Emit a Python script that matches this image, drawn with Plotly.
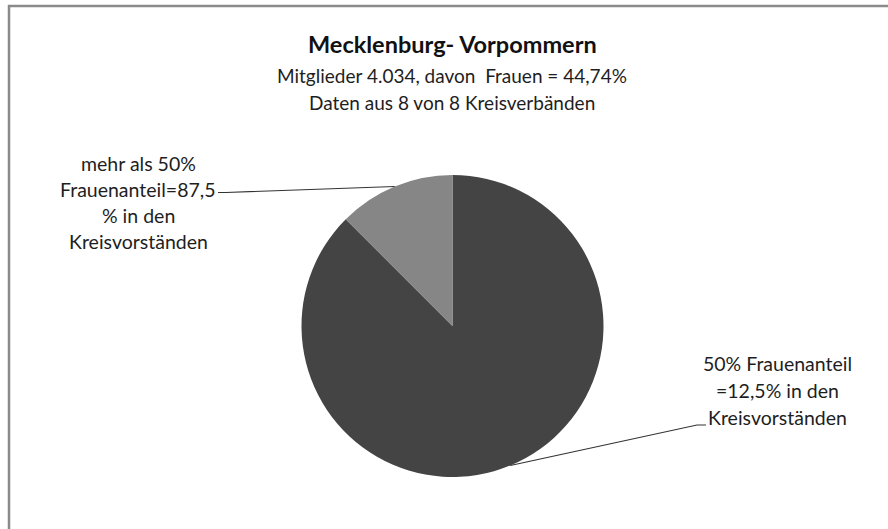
import math
import plotly.graph_objects as go

# ---- data ----
slice_names = ["50% Frauenanteil", "mehr als 50% Frauenanteil"]
slice_values = [87.5, 12.5]
slice_colors = ["#444444", "#868686"]
label_lines_dark = ["50% Frauenanteil", "=12,5% in den", "Kreisvorständen"]
label_lines_light = ["mehr als 50%", "Frauenanteil=87,5", "% in den", "Kreisvorständen"]
title_text = "Mecklenburg- Vorpommern"
subtitle_lines = ["Mitglieder 4.034, davon  Frauen = 44,74%", "Daten aus 8 von 8 Kreisverbänden"]

W, H = 888, 529
FONT = "Lato, Carlito, Calibri, sans-serif"
TXT = "#1e1e1e"

# pie geometry (pixels)
cx, cy, r = 452.5, 326, 151


def px(x):
    return x / W


def py(y):
    return 1 - y / H


fig = go.Figure(go.Pie(
    labels=slice_names,
    values=slice_values,
    sort=False,
    direction="clockwise",
    rotation=0,
    marker=dict(colors=slice_colors, line=dict(width=0)),
    textinfo="none",
    hoverinfo="label+percent",
    showlegend=False,
    domain=dict(x=[px(cx - r), px(cx + r)], y=[py(cy + r), py(cy - r)]),
))

# mid-angle edge points of each slice (clockwise from 12 o'clock), derived from the data
total = sum(slice_values)
cum = 0
edge_pts = []
for v in slice_values:
    mid = (cum + v / 2) / total * 2 * math.pi
    edge_pts.append((cx + r * math.sin(mid), cy - r * math.cos(mid)))
    cum += v

shapes = [
    # frame (top and left edges)
    dict(type="line", xref="paper", yref="paper", x0=px(8), x1=px(W), y0=py(6), y1=py(6),
         line=dict(color="#8a8a8a", width=2.5)),
    dict(type="line", xref="paper", yref="paper", x0=px(9), x1=px(9), y0=py(5), y1=py(H),
         line=dict(color="#8a8a8a", width=2.5)),
]

# leader lines
(ed_x, ed_y), (el_x, el_y) = edge_pts
shapes.append(dict(type="path", xref="paper", yref="paper",
                   path=f"M {px(218)},{py(192.5)} L {px(226)},{py(192.5)} L {px(el_x)},{py(el_y)}",
                   line=dict(color="#333333", width=1.2)))
shapes.append(dict(type="path", xref="paper", yref="paper",
                   path=f"M {px(706)},{py(425)} L {px(697)},{py(425)} L {px(ed_x)},{py(ed_y)}",
                   line=dict(color="#333333", width=1.2)))

annotations = []
annotations.append(dict(text=f"<b>{title_text}</b>", x=px(452), y=py(44), xref="paper", yref="paper",
                        showarrow=False, font=dict(family=FONT, size=23.5, color="#111111"),
                        xanchor="center", yanchor="middle"))
for i, t in enumerate(subtitle_lines):
    annotations.append(dict(text=t, x=px(452), y=py(75 + 28 * i), xref="paper", yref="paper",
                            showarrow=False, font=dict(family=FONT, size=19, color=TXT),
                            xanchor="center", yanchor="middle"))
for i, t in enumerate(label_lines_light):
    annotations.append(dict(text=t, x=px(138), y=py(163 + 26 * i), xref="paper", yref="paper",
                            showarrow=False, font=dict(family=FONT, size=19.5, color=TXT),
                            xanchor="center", yanchor="middle"))
for i, t in enumerate(label_lines_dark):
    annotations.append(dict(text=t, x=px(777), y=py(363 + 27 * i), xref="paper", yref="paper",
                            showarrow=False, font=dict(family=FONT, size=19.5, color=TXT),
                            xanchor="center", yanchor="middle"))

fig.update_layout(
    width=W, height=H,
    margin=dict(l=0, r=0, t=0, b=0),
    paper_bgcolor="white",
    plot_bgcolor="white",
    shapes=shapes,
    annotations=annotations,
)

fig.write_html("out.html", config={"displayModeBar": False},
               post_script="document.body.style.margin='0';")
